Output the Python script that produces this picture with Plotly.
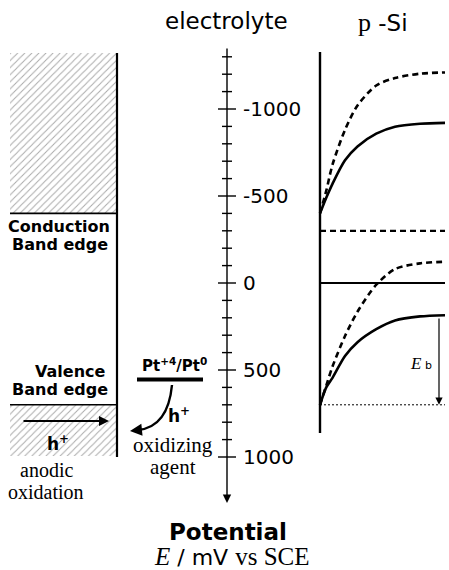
import plotly.graph_objects as go

# ---------------- data ----------------
# potential axis (mV vs SCE)
tick_values = list(range(-1300, 1001, 100))
major_ticks = [-1000, -500, 0, 500, 1000]
tick_labels = ["-1000", "-500", "0", "500", "1000"]

# band edges (mV)
conduction_band_edge = -400
valence_band_edge = 700
pt_level = 555
flatband_level = 0
dashed_level = -300

# band bending curves in p-Si: depth (a.u. 0..100) and potential (mV)
depth = [0, 5, 10, 20, 30, 45, 60, 80, 100]
cb_solid = [-400, -490, -570, -705, -785, -858, -898, -915, -920]
cb_dashed = [-400, -530, -680, -880, -1020, -1135, -1178, -1203, -1210]
vb_solid = [700, 600, 545, 420, 340, 265, 215, 192, 185]
vb_dashed = [700, 590, 480, 305, 165, 10, -80, -113, -122]

# ---------------- layout helpers ----------------
W, H = 449, 570
Y0, SCALE = 283, 0.174  # pixel of 0 mV, px per mV


def E(ypix):
    return (ypix - Y0) / SCALE


SANS = "DejaVu Sans, Arial, sans-serif"
SERIF = "Liberation Serif, Times New Roman, serif"
AX_X = 227
PANEL_X0, PANEL_W = 320, 125


def px(d):
    return PANEL_X0 + d * PANEL_W / 100.0


fig = go.Figure()

# hatched regions (left side)
for top, bot in [(E(53), conduction_band_edge), (valence_band_edge, E(456))]:
    fig.add_trace(go.Scatter(
        x=[10, 117, 117, 10, 10], y=[top, top, bot, bot, top],
        mode="lines", line=dict(width=0), fill="toself",
        fillcolor="white",
        fillpattern=dict(shape="/", size=5, solidity=0.2, fgcolor="#555555", bgcolor="white"),
        hoverinfo="skip", showlegend=False))

# band edge lines + vertical boundary on the left
fig.add_trace(go.Scatter(x=[10, 117, None, 10, 117], y=[conduction_band_edge, conduction_band_edge, None, valence_band_edge, valence_band_edge],
                         mode="lines", line=dict(color="black", width=1.6), showlegend=False, hoverinfo="skip"))
fig.add_trace(go.Scatter(x=[117, 117], y=[E(53), E(457)], mode="lines",
                         line=dict(color="black", width=2.2), showlegend=False, hoverinfo="skip"))

# central potential axis ticks
tx, ty = [], []
for v in tick_values:
    h = 9 if v in major_ticks else 5
    tx += [AX_X - h, AX_X + h, None]
    ty += [v, v, None]
fig.add_trace(go.Scatter(x=tx, y=ty, mode="lines", line=dict(color="black", width=1.4),
                         showlegend=False, hoverinfo="skip"))
fig.add_annotation(x=AX_X, y=E(503), ax=AX_X, ay=E(47), xref="x", yref="y", axref="x", ayref="y",
                   showarrow=True, arrowhead=2, arrowsize=1.2, arrowwidth=1.4, arrowcolor="black", text="")
for v, lab in zip(major_ticks, tick_labels):
    fig.add_annotation(x=241, y=v, text=lab, showarrow=False, xanchor="left", yanchor="middle",
                       font=dict(family=SANS, size=20, color="black"))

# right p-Si panel
fig.add_trace(go.Scatter(x=[PANEL_X0, PANEL_X0], y=[E(52), E(433)], mode="lines",
                         line=dict(color="black", width=2.4), showlegend=False, hoverinfo="skip"))
fig.add_trace(go.Scatter(x=[PANEL_X0, px(100)], y=[flatband_level] * 2, mode="lines",
                         line=dict(color="black", width=2.2), showlegend=False, hoverinfo="skip"))
fig.add_trace(go.Scatter(x=[PANEL_X0, px(100)], y=[dashed_level] * 2, mode="lines",
                         line=dict(color="black", width=2.2, dash="6px,4px"), showlegend=False, hoverinfo="skip"))
fig.add_trace(go.Scatter(x=[PANEL_X0, px(100)], y=[valence_band_edge] * 2, mode="lines",
                         line=dict(color="black", width=1, dash="2px,2px"), showlegend=False, hoverinfo="skip"))

xs = [px(d) for d in depth]
for ys, dash in [(cb_solid, "solid"), (cb_dashed, "6px,4px"), (vb_solid, "solid"), (vb_dashed, "6px,4px")]:
    fig.add_trace(go.Scatter(x=xs, y=ys, mode="lines", line=dict(color="black", width=2.6, dash=dash, shape="spline", smoothing=0.8),
                             showlegend=False, hoverinfo="skip"))

# E_b arrow
fig.add_annotation(x=439, y=valence_band_edge, ax=439, ay=vb_solid[-1] + 10, xref="x", yref="y", axref="x", ayref="y",
                   showarrow=True, arrowhead=2, arrowsize=1.2, arrowwidth=1.2, arrowcolor="black", text="")
fig.add_annotation(x=421, y=E(363), text="<i>E</i><span style='font-family:DejaVu Sans;font-size:11px'> b</span>",
                   showarrow=False, font=dict(family=SERIF, size=17, color="black"))

# Pt level and curved arrow
fig.add_trace(go.Scatter(x=[137, 203], y=[pt_level, pt_level], mode="lines",
                         line=dict(color="black", width=4), showlegend=False, hoverinfo="skip"))
fig.add_shape(type="path", xref="x", yref="y",
              path=f"M 172,{E(385)} Q 168,{E(427)} 138,{E(430)}",
              line=dict(color="black", width=2.4))
fig.add_annotation(x=130, y=E(431), ax=140, ay=E(430), xref="x", yref="y", axref="x", ayref="y",
                   showarrow=True, arrowhead=2, arrowsize=1.0, arrowwidth=2.4, arrowcolor="black", text="")
fig.add_annotation(x=174, y=E(365), text="<b>Pt<sup>+4</sup>/Pt<sup>0</sup></b>", showarrow=False,
                   font=dict(family=SANS, size=15, color="black"))
fig.add_annotation(x=179, y=E(415), text="<b>h<sup>+</sup></b>", showarrow=False,
                   font=dict(family=SANS, size=17, color="black"))

# left h+ arrow
fig.add_annotation(x=109, y=E(421), ax=22, ay=E(421), xref="x", yref="y", axref="x", ayref="y",
                   showarrow=True, arrowhead=2, arrowsize=1.0, arrowwidth=2, arrowcolor="black", text="")
fig.add_annotation(x=58, y=E(443), text="<b>h<sup>+</sup></b>", showarrow=False,
                   font=dict(family=SANS, size=17, color="black"))


# text labels
def txt(x, ypix, s, size, family=SANS, xanchor="center"):
    fig.add_annotation(x=x, y=E(ypix), text=s, showarrow=False, xanchor=xanchor, yanchor="middle",
                       font=dict(family=family, size=size, color="black"))


txt(112, 226, "<b>Conduction</b>", 16, xanchor="right")
txt(110, 244, "<b>Band edge</b>", 16, xanchor="right")
txt(108, 371, "<b>Valence</b>", 16, xanchor="right")
txt(110, 389, "<b>Band edge</b>", 16, xanchor="right")
txt(46, 470, "anodic", 20, SERIF)
txt(46, 492, "oxidation", 20, SERIF)
txt(173, 445, "oxidizing", 21, SERIF)
txt(173, 467, "agent", 21, SERIF)
txt(226, 21, "electrolyte", 23)
txt(383, 22, "<span style='font-family:Liberation Serif;font-size:26px'>p</span> -Si", 23)
txt(228, 532, "<b>Potential</b>", 23)
txt(232, 556, "<i style='font-family:Liberation Serif;font-size:25px'>E</i> / mV <span style='font-family:Liberation Serif;font-size:25px'>vs SCE</span>", 22)

fig.update_layout(
    width=W, height=H, margin=dict(l=0, r=0, t=0, b=0),
    paper_bgcolor="white", plot_bgcolor="white", showlegend=False,
    xaxis=dict(range=[0, W], visible=False, fixedrange=True),
    yaxis=dict(range=[E(H), E(0)], visible=False, fixedrange=True),
)
fig.write_html("out.html")
